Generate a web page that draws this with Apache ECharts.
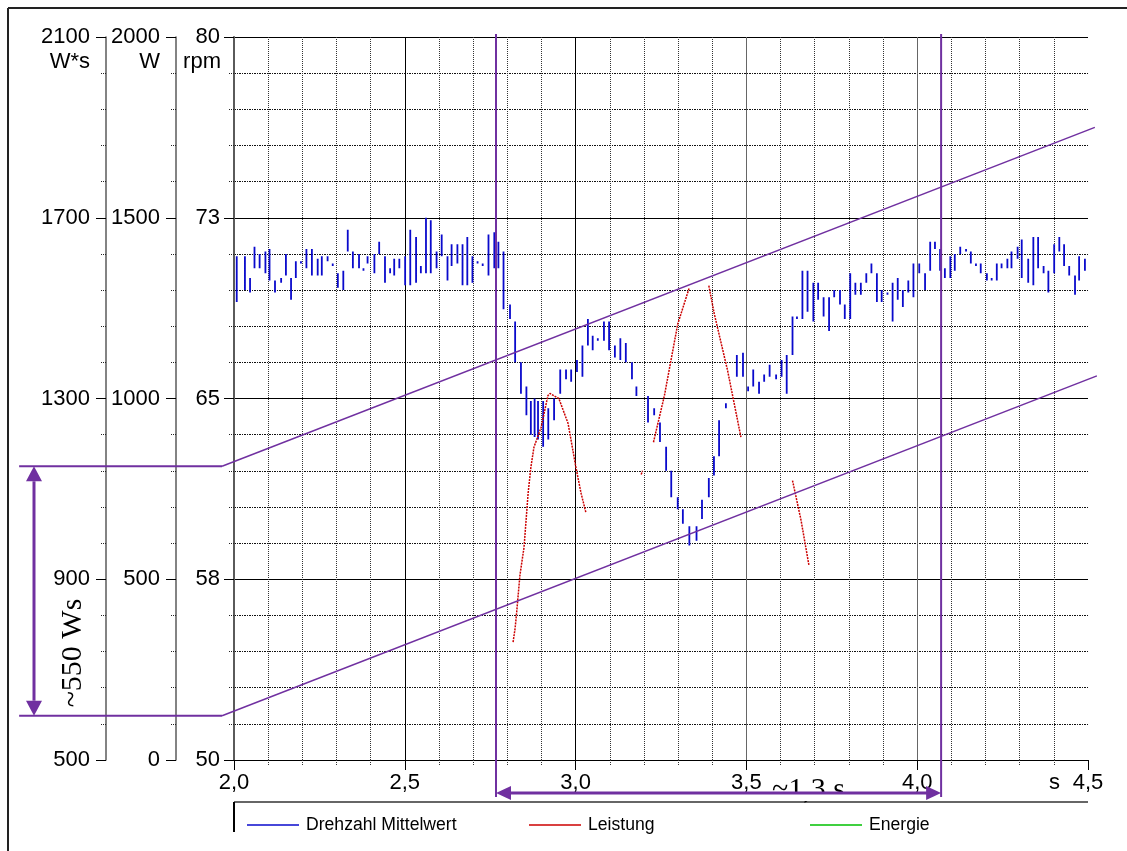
<!DOCTYPE html>
<html><head><meta charset="utf-8">
<script src="https://cdn.jsdelivr.net/npm/echarts@6/dist/echarts.min.js"></script>
<style>html,body{margin:0;padding:0;background:#fff}#c{width:1127px;height:851px}</style>
</head><body><div id="c"></div>
<script>
// ---------- data ----------
// Drehzahl Mittelwert (rpm): each sample drawn as a short vertical stroke high..low
const rpmTime = [2.008,2.032,2.047,2.060,2.075,2.092,2.104,2.120,2.138,2.152,2.167,2.181,2.196,2.212,2.228,2.245,2.257,2.274,2.289,2.304,
 2.320,2.333,2.348,2.366,2.379,2.391,2.411,2.425,2.442,2.457,2.469,2.484,2.501,2.516,2.533,2.547,2.562,2.576,2.593,2.608,
 2.625,2.637,2.654,2.669,2.683,2.698,2.713,2.728,2.745,2.762,2.774,2.789,2.808,2.823,2.840,2.856,2.869,2.880,2.890,2.905,
 2.920,2.937,2.955,2.972,2.987,3.004,3.020,3.036,3.050,3.065,3.083,3.098,3.115,3.131,3.147,3.165,3.178,3.212,3.230,3.247,
 3.265,3.280,3.299,3.314,3.333,3.354,3.370,3.390,3.405,3.420,3.440,3.472,3.490,3.505,3.520,3.537,3.552,3.568,3.587,
 3.603,3.618,3.635,3.648,3.664,3.679,3.696,3.710,3.726,3.742,3.757,3.774,3.788,3.804,3.819,3.835,3.851,3.866,3.882,3.896,
 3.913,3.928,3.943,3.958,3.974,3.989,4.006,4.023,4.038,4.052,4.067,4.081,4.097,4.110,4.126,4.143,4.157,4.172,4.186,4.204,
 4.218,4.233,4.247,4.264,4.276,4.294,4.306,4.325,4.340,4.354,4.370,4.384,4.401,4.416,4.430,4.445,4.462,4.474,4.491];
const rpmHigh = [70.9,70.9,70.0,71.3,71.0,71.1,71.2,69.9,70.0,71.0,70.0,70.7,70.7,71.2,71.2,70.8,70.9,70.9,70.6,70.2,
 70.3,72.0,71.1,71.0,70.4,70.9,71.0,71.5,70.9,70.4,70.8,70.8,70.9,72.0,71.7,70.5,72.5,72.4,71.1,71.8,
 70.9,71.4,71.4,71.4,71.7,70.9,70.7,70.6,71.8,71.9,71.5,71.1,68.9,68.2,66.5,65.5,64.9,65.0,64.9,64.9,
 64.6,65.0,66.2,66.2,66.2,66.6,67.2,68.3,67.6,67.5,68.2,68.2,67.2,67.5,67.3,66.5,65.5,65.1,64.6,64.0,
 63.0,62.0,60.9,60.4,59.7,59.7,60.8,61.7,62.6,64.1,64.8,66.8,66.9,65.5,66.2,65.7,66.0,66.4,66.0,
 66.6,66.8,68.4,68.4,70.3,70.3,69.8,69.8,69.2,69.2,69.5,69.5,68.9,70.2,69.8,69.8,70.2,70.6,70.2,69.5,
 69.4,69.8,70.0,69.5,69.9,70.6,70.6,70.2,71.5,71.5,71.2,70.4,70.9,71.0,71.3,71.2,71.1,70.6,70.6,70.2,
 70.0,70.6,70.6,70.8,71.1,71.3,71.6,70.8,71.7,71.7,70.5,70.3,71.4,71.7,71.4,70.5,70.1,70.9,70.8];
const rpmLow = [69.0,69.5,69.4,70.4,70.4,70.2,69.9,69.4,69.8,70.1,69.1,70.0,70.6,70.4,70.1,70.1,70.1,70.7,70.5,69.6,
 69.5,71.1,70.4,70.4,70.3,70.6,70.2,71.0,69.8,70.2,70.1,70.4,69.7,69.7,69.8,70.2,70.2,70.2,70.4,70.9,
 69.9,70.5,70.6,69.7,69.7,69.8,70.6,70.5,70.1,70.4,70.4,68.7,68.3,66.5,65.2,64.3,63.5,63.4,63.3,63.0,
 63.3,64.1,65.2,65.8,65.7,66.1,65.9,67.2,67.0,67.4,67.4,67.0,66.7,66.6,66.5,65.8,65.1,64.0,64.3,63.2,
 62.0,60.9,60.4,59.8,58.9,59.1,60.0,60.9,61.8,62.6,64.6,65.9,65.9,65.3,65.5,65.2,65.7,65.9,65.8,
 65.9,65.2,66.8,68.3,68.3,68.6,68.2,69.1,68.4,67.8,69.2,68.9,68.3,68.3,69.3,69.3,69.8,70.2,69.0,69.0,
 69.3,68.2,69.1,68.8,69.4,69.2,70.2,69.5,70.3,71.2,70.3,70.0,70.0,70.3,71.0,71.1,70.6,70.5,70.2,69.9,
 69.9,69.9,70.4,70.4,70.4,70.8,70.0,69.8,69.7,70.4,70.2,69.4,70.2,71.1,70.5,70.1,69.3,69.9,70.3];
// Leistung (W): visible pieces, null = gap
const powerTime  = [2.817,2.823,2.828,2.837,2.849,2.861,2.869,2.878,2.899,2.919,2.925,2.951,2.978,3.001,3.016,3.030,null,
 3.192,3.196,null, 3.228,3.260,3.299,3.333,null, 3.390,3.406,3.445,3.484,null, 3.635,3.660,3.683];
const powerValue = [326,365,414,511,588,738,809,865,920,1008,1014,1000,931,809,738,685,null,
 790,800,null, 879,1008,1206,1307,null, 1312,1234,1077,893,null, 773,663,539];
// Energie (W*s): no visible trace in the picture
const energyTime = [];
const energyValue = [];
// annotations (data units)
const markerTimes = [2.767, 4.070];          // s
const energyLevels = [1150, 598];            // W*s
const trendEnd = [[4.520, 1900], [4.526, 1350]]; // slanted lines end (s, W*s)
const trendStartT = 1.965, levelStartT = 1.371;
// axis definitions
const xMin = 2.0, xMax = 4.5, xStep = 0.5;
const RPM_BASE = 50, RPM_MAX = 80, RPM_STEP = 7.5;
const W_MIN = 0, W_MAX = 2000, W_STEP = 500;
const WS_BASE = 500, WS_MAX = 2100, WS_STEP = 400;
const legendNames = ['Drehzahl Mittelwert', 'Leistung', 'Energie'];
const colors = {rpm:'#0a0acc', power:'#cc0000', energy:'#00c000', purple:'#7030a0'};

// ---------- build ----------
const blueData = [];
rpmTime.forEach((t, i) => { blueData.push([t, rpmHigh[i] - RPM_BASE], [t, rpmLow[i] - RPM_BASE], [t, null]); });
const redData = powerTime.map((t, i) => t === null ? [null, null] : [t, powerValue[i]]);
const greenData = energyTime.map((t, i) => [t, energyValue[i] - WS_BASE]);

const FONT = 'Liberation Sans';
function yAx(offset, max, step, fmt, margin, lineW, grid) {
  return {
    type: 'value', position: 'left', offset, min: 0, max, interval: step,
    axisLine: {show: true, onZero: false, lineStyle: {color: '#5a5a5a', width: lineW}},
    axisTick: {show: true, length: 10, lineStyle: {color: '#000', width: 1}},
    minorTick: {show: true, splitNumber: 5, length: 6, lineStyle: {color: '#222', type: [1, 1], width: 1}},
    axisLabel: {margin, fontSize: 22, color: '#000', fontFamily: FONT, formatter: fmt},
    splitLine: {show: grid, lineStyle: {color: '#000', width: 1}},
    minorSplitLine: {show: grid, lineStyle: {color: '#111', width: 1, type: [2, 1, 1, 1]}}
  };
}
const legendCommon = {icon: 'rect', itemWidth: 52, itemHeight: 1.5, padding: 0, itemGap: 0, top: 816, selectedMode: false,
  textStyle: {fontSize: 17.6, color: '#000', fontFamily: FONT, padding: [0, 0, 0, 2]}};

const option = {
  animation: false,
  backgroundColor: '#fff',
  grid: {left: 234, right: 39, top: 37, bottom: 91, containLabel: false, outerBoundsMode: 'none'},
  legend: [
    Object.assign({data: [legendNames[0]], left: 247}, legendCommon),
    Object.assign({data: [legendNames[1]], left: 529}, legendCommon),
    Object.assign({data: [legendNames[2]], left: 810}, legendCommon)
  ],
  xAxis: {
    type: 'value', min: xMin, max: xMax, interval: xStep,
    axisLine: {onZero: false, lineStyle: {color: '#000', width: 1}},
    axisTick: {length: 10, lineStyle: {color: '#000', width: 1}},
    minorTick: {show: true, splitNumber: 5, length: 5, lineStyle: {color: '#333', type: [1, 1]}},
    axisLabel: {margin: 12, fontSize: 22, color: '#000', fontFamily: FONT,
      formatter: v => v.toFixed(1).replace('.', ',')},
    splitLine: {show: true, showMaxLine: false, lineStyle: {color: ['#666', '#000', '#000', '#666', '#666'], width: 1}},
    minorSplitLine: {show: true, lineStyle: {color: '#333', width: 1, type: [1, 1]}}
  },
  yAxis: [
    yAx(0, RPM_MAX - RPM_BASE, RPM_STEP, v => String(Math.round(v + RPM_BASE)), 14, 2, true),
    yAx(58, W_MAX, W_STEP, v => String(v), 16, 1.5, false),
    yAx(128, WS_MAX - WS_BASE, WS_STEP, v => String(v + WS_BASE), 16, 1.5, false)
  ],
  series: [
    {name: legendNames[0], type: 'line', yAxisIndex: 0, data: blueData, showSymbol: false, connectNulls: false,
      color: colors.rpm, lineStyle: {color: colors.rpm, width: 1.8}, z: 3},
    {name: legendNames[1], type: 'line', yAxisIndex: 1, data: redData, showSymbol: false, connectNulls: false,
      color: colors.power, lineStyle: {color: colors.power, width: 1.5, type: [2, 1]}, z: 4},
    {name: legendNames[2], type: 'line', yAxisIndex: 2, data: greenData, showSymbol: false,
      color: colors.energy, lineStyle: {color: colors.energy, width: 1.5}, z: 4}
  ]
};

const chart = echarts.init(document.getElementById('c'));
chart.setOption(option);

const X = t => chart.convertToPixel({xAxisIndex: 0}, t);
const YWs = v => chart.convertToPixel({yAxisIndex: 2}, v - WS_BASE);
const gTop = 37, gBottom = 760, gLeft = 234, gRight = 1088;
const P = colors.purple;
const g = [];
// outer frame
g.push({type: 'line', shape: {x1: 8, y1: 8, x2: 1127, y2: 8}, style: {stroke: '#222', lineWidth: 2}});
g.push({type: 'line', shape: {x1: 8, y1: 8, x2: 8, y2: 851}, style: {stroke: '#222', lineWidth: 2}});
// unit labels
const unitY = 62;
g.push({type: 'text', x: gLeft - 128 - 16, y: unitY, style: {text: 'W*s', font: '22px "' + FONT + '"', fill: '#000', align: 'right', verticalAlign: 'middle'}});
g.push({type: 'text', x: gLeft - 58 - 16, y: unitY, style: {text: 'W', font: '22px "' + FONT + '"', fill: '#000', align: 'right', verticalAlign: 'middle'}});
g.push({type: 'text', x: gLeft - 13, y: unitY, style: {text: 'rpm', font: '22px "' + FONT + '"', fill: '#000', align: 'right', verticalAlign: 'middle'}});
g.push({type: 'text', x: X(xMax) - 28, y: 783, style: {text: 's', font: '22px "' + FONT + '"', fill: '#000', align: 'right', verticalAlign: 'middle'}});
// legend frame
g.push({type: 'line', shape: {x1: gLeft, y1: 802, x2: gRight, y2: 802}, style: {stroke: '#666', lineWidth: 2}});
g.push({type: 'line', shape: {x1: gLeft, y1: 802, x2: gLeft, y2: 832}, style: {stroke: '#000', lineWidth: 2}});
// energy level lines + trend lines
energyLevels.forEach((lv, i) => {
  const y0 = YWs(lv);
  g.push({type: 'line', z: 50, shape: {x1: X(levelStartT), y1: y0, x2: X(trendStartT), y2: y0}, style: {stroke: P, lineWidth: 2}});
  g.push({type: 'line', z: 50, shape: {x1: X(trendStartT), y1: y0, x2: X(trendEnd[i][0]), y2: YWs(trendEnd[i][1])}, style: {stroke: P, lineWidth: 1.5}});
});
// vertical arrow (~550 Ws)
const ax = 34, ya = YWs(energyLevels[0]), yb = YWs(energyLevels[1]), ah = 15, aw = 8;
g.push({type: 'line', z: 50, shape: {x1: ax, y1: ya + ah, x2: ax, y2: yb - ah}, style: {stroke: P, lineWidth: 3}});
g.push({type: 'polygon', z: 50, shape: {points: [[ax, ya], [ax - aw, ya + ah], [ax + aw, ya + ah]]}, style: {fill: P}});
g.push({type: 'polygon', z: 50, shape: {points: [[ax, yb], [ax - aw, yb - ah], [ax + aw, yb - ah]]}, style: {fill: P}});
g.push({type: 'text', z: 50, x: 73, y: (ya + yb) / 2 + 62, rotation: Math.PI / 2,
  style: {text: '~550 Ws', font: '30px "Liberation Serif"', fill: '#000', align: 'center', verticalAlign: 'middle'}});
// vertical markers
markerTimes.forEach(t => {
  g.push({type: 'line', z: 50, shape: {x1: X(t), y1: 34, x2: X(t), y2: 797}, style: {stroke: P, lineWidth: 2}});
});
// horizontal arrow (~1,3 s) — text clipped at the arrow like in the original
const xa = X(markerTimes[0]), xb = X(markerTimes[1]), hy = 793;
g.push({type: 'text', z: 40, x: 772, y: 790, style: {text: '~1,3 s', font: '30px "Liberation Serif"', fill: '#000', align: 'left', verticalAlign: 'middle'}});
g.push({type: 'rect', z: 45, shape: {x: 760, y: 793, width: 110, height: 8}, style: {fill: '#fff'}});
g.push({type: 'line', z: 50, shape: {x1: xa + 14, y1: hy, x2: xb - 14, y2: hy}, style: {stroke: P, lineWidth: 3}});
g.push({type: 'polygon', z: 50, shape: {points: [[xa, hy], [xa + 15, hy - 7], [xa + 15, hy + 7]]}, style: {fill: P}});
g.push({type: 'polygon', z: 50, shape: {points: [[xb, hy], [xb - 15, hy - 7], [xb - 15, hy + 7]]}, style: {fill: P}});

chart.setOption({graphic: g.map(e => Object.assign({silent: true}, e))});
</script></body></html>
